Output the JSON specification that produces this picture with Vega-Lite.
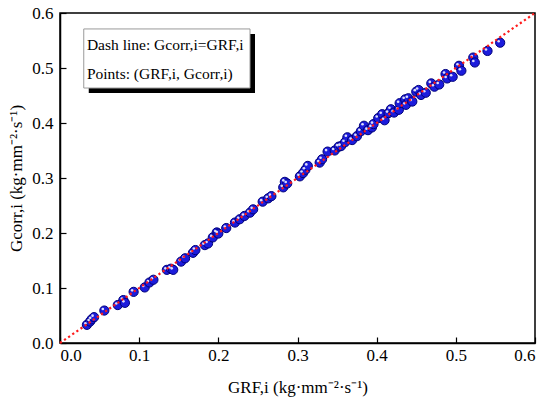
{
  "$schema": "https://vega.github.io/schema/vega-lite/v6.json",
  "width": 475,
  "height": 330,
  "autosize": {"type": "none"},
  "padding": {"left": 60, "top": 13, "right": 15, "bottom": 60},
  "background": "white",
  "config": {
    "view": {"stroke": "black", "strokeWidth": 1.5},
    "font": "Liberation Serif"
  },
  "datasets": {
    "pts": [
      {"g_rf": 0.034, "g_corr": 0.033}, {"g_rf": 0.038, "g_corr": 0.039}, {"g_rf": 0.040, "g_corr": 0.043},
      {"g_rf": 0.043, "g_corr": 0.047}, {"g_rf": 0.056, "g_corr": 0.059}, {"g_rf": 0.073, "g_corr": 0.069},
      {"g_rf": 0.080, "g_corr": 0.078}, {"g_rf": 0.082, "g_corr": 0.073}, {"g_rf": 0.093, "g_corr": 0.093},
      {"g_rf": 0.107, "g_corr": 0.101}, {"g_rf": 0.113, "g_corr": 0.110}, {"g_rf": 0.118, "g_corr": 0.115},
      {"g_rf": 0.135, "g_corr": 0.133}, {"g_rf": 0.140, "g_corr": 0.135}, {"g_rf": 0.143, "g_corr": 0.133},
      {"g_rf": 0.153, "g_corr": 0.148}, {"g_rf": 0.158, "g_corr": 0.154}, {"g_rf": 0.168, "g_corr": 0.164},
      {"g_rf": 0.171, "g_corr": 0.169}, {"g_rf": 0.183, "g_corr": 0.178}, {"g_rf": 0.187, "g_corr": 0.181},
      {"g_rf": 0.193, "g_corr": 0.192}, {"g_rf": 0.198, "g_corr": 0.201}, {"g_rf": 0.200, "g_corr": 0.199},
      {"g_rf": 0.210, "g_corr": 0.209}, {"g_rf": 0.221, "g_corr": 0.219}, {"g_rf": 0.227, "g_corr": 0.225},
      {"g_rf": 0.233, "g_corr": 0.231}, {"g_rf": 0.240, "g_corr": 0.237}, {"g_rf": 0.244, "g_corr": 0.243},
      {"g_rf": 0.256, "g_corr": 0.257}, {"g_rf": 0.263, "g_corr": 0.263}, {"g_rf": 0.267, "g_corr": 0.267},
      {"g_rf": 0.282, "g_corr": 0.283}, {"g_rf": 0.284, "g_corr": 0.293}, {"g_rf": 0.287, "g_corr": 0.290},
      {"g_rf": 0.303, "g_corr": 0.303}, {"g_rf": 0.307, "g_corr": 0.309}, {"g_rf": 0.310, "g_corr": 0.315},
      {"g_rf": 0.313, "g_corr": 0.322}, {"g_rf": 0.328, "g_corr": 0.328}, {"g_rf": 0.331, "g_corr": 0.334},
      {"g_rf": 0.338, "g_corr": 0.348}, {"g_rf": 0.347, "g_corr": 0.350}, {"g_rf": 0.352, "g_corr": 0.357},
      {"g_rf": 0.355, "g_corr": 0.358}, {"g_rf": 0.360, "g_corr": 0.365}, {"g_rf": 0.363, "g_corr": 0.374},
      {"g_rf": 0.369, "g_corr": 0.369}, {"g_rf": 0.375, "g_corr": 0.376}, {"g_rf": 0.380, "g_corr": 0.385},
      {"g_rf": 0.384, "g_corr": 0.395}, {"g_rf": 0.389, "g_corr": 0.387}, {"g_rf": 0.394, "g_corr": 0.392},
      {"g_rf": 0.396, "g_corr": 0.398}, {"g_rf": 0.402, "g_corr": 0.409}, {"g_rf": 0.407, "g_corr": 0.416},
      {"g_rf": 0.410, "g_corr": 0.405}, {"g_rf": 0.415, "g_corr": 0.418}, {"g_rf": 0.418, "g_corr": 0.425},
      {"g_rf": 0.422, "g_corr": 0.419}, {"g_rf": 0.428, "g_corr": 0.424}, {"g_rf": 0.429, "g_corr": 0.436},
      {"g_rf": 0.436, "g_corr": 0.443}, {"g_rf": 0.437, "g_corr": 0.433}, {"g_rf": 0.440, "g_corr": 0.445},
      {"g_rf": 0.445, "g_corr": 0.439}, {"g_rf": 0.450, "g_corr": 0.457}, {"g_rf": 0.453, "g_corr": 0.460},
      {"g_rf": 0.456, "g_corr": 0.451}, {"g_rf": 0.462, "g_corr": 0.455}, {"g_rf": 0.469, "g_corr": 0.472},
      {"g_rf": 0.473, "g_corr": 0.466}, {"g_rf": 0.479, "g_corr": 0.470}, {"g_rf": 0.487, "g_corr": 0.489},
      {"g_rf": 0.489, "g_corr": 0.481}, {"g_rf": 0.496, "g_corr": 0.484}, {"g_rf": 0.504, "g_corr": 0.504},
      {"g_rf": 0.507, "g_corr": 0.495}, {"g_rf": 0.522, "g_corr": 0.519}, {"g_rf": 0.524, "g_corr": 0.510},
      {"g_rf": 0.540, "g_corr": 0.531}, {"g_rf": 0.556, "g_corr": 0.546}
    ]
  },
  "layer": [
    {
      "data": {"name": "pts"},
      "mark": {"type": "point", "filled": true, "shape": "circle", "size": 85, "fill": "#1c1cdc", "stroke": "#00007a", "strokeWidth": 1, "opacity": 1},
      "encoding": {
        "x": {
          "field": "g_rf", "type": "quantitative",
          "title": "GRF,i (kg·mm⁻²·s⁻¹)",
          "scale": {"domain": [0, 0.6], "nice": false, "zero": true},
          "axis": {
            "values": [0, 0.05, 0.1, 0.15, 0.2, 0.25, 0.3, 0.35, 0.4, 0.45, 0.5, 0.55, 0.6],
            "labelExpr": "round(datum.value*20) % 2 == 1 ? '' : format(datum.value, '.1f')",
            "tickSize": {"condition": {"test": "round(datum.value*20) % 2 == 1", "value": -3}, "value": -6},
            "grid": false,
            "domainColor": "black", "domainWidth": 1.5,
            "tickColor": "black", "tickWidth": 1.2,
            "labelFontSize": 17, "labelColor": "black", "labelFont": "Liberation Serif",
            "labelPadding": 10,
            "titleFontSize": 17, "titleFontWeight": "normal", "titleColor": "black", "titleFont": "Liberation Serif",
            "titlePadding": 16
          }
        },
        "y": {
          "field": "g_corr", "type": "quantitative",
          "title": "Gcorr,i (kg·mm⁻²·s⁻¹)",
          "scale": {"domain": [0, 0.6], "nice": false, "zero": true},
          "axis": {
            "values": [0, 0.05, 0.1, 0.15, 0.2, 0.25, 0.3, 0.35, 0.4, 0.45, 0.5, 0.55, 0.6],
            "labelExpr": "round(datum.value*20) % 2 == 1 ? '' : format(datum.value, '.1f')",
            "tickSize": {"condition": {"test": "round(datum.value*20) % 2 == 1", "value": -3}, "value": -6},
            "grid": false,
            "domainColor": "black", "domainWidth": 1.5,
            "tickColor": "black", "tickWidth": 1.2,
            "labelFontSize": 17, "labelColor": "black", "labelFont": "Liberation Serif",
            "labelPadding": 13,
            "titleFontSize": 17, "titleFontWeight": "normal", "titleColor": "black", "titleFont": "Liberation Serif",
            "titlePadding": 6
          }
        }
      }
    },
    {
      "data": {"name": "pts"},
      "mark": {"type": "point", "filled": true, "shape": "circle", "size": 7, "fill": "white", "opacity": 0.85, "xOffset": -1.5, "yOffset": -1.5},
      "encoding": {
        "x": {"field": "g_rf", "type": "quantitative"},
        "y": {"field": "g_corr", "type": "quantitative"}
      }
    },
    {
      "data": {"values": [{}]},
      "mark": {"type": "rule", "color": "#ff1a1a", "strokeWidth": 2.2, "strokeDash": [2.2, 2.8]},
      "encoding": {
        "x": {"datum": 0, "type": "quantitative"},
        "y": {"datum": 0, "type": "quantitative"},
        "x2": {"datum": 0.6},
        "y2": {"datum": 0.6}
      }
    },
    {
      "data": {"values": [{}]},
      "mark": {"type": "rect", "fill": "black", "xOffset": 5, "yOffset": 5, "x2Offset": 5, "y2Offset": 5},
      "encoding": {
        "x": {"datum": 0.030, "type": "quantitative"},
        "x2": {"datum": 0.240},
        "y": {"datum": 0.571, "type": "quantitative"},
        "y2": {"datum": 0.4636}
      }
    },
    {
      "data": {"values": [{}]},
      "mark": {"type": "rect", "fill": "white", "stroke": "#9a9a9a", "strokeWidth": 1},
      "encoding": {
        "x": {"datum": 0.030, "type": "quantitative"},
        "x2": {"datum": 0.240},
        "y": {"datum": 0.571, "type": "quantitative"},
        "y2": {"datum": 0.4636}
      }
    },
    {
      "data": {"values": [{}]},
      "mark": {"type": "text", "align": "left", "baseline": "alphabetic", "fontSize": 15.5, "font": "Liberation Serif", "color": "black", "text": "Dash line: Gcorr,i=GRF,i"},
      "encoding": {
        "x": {"datum": 0.034, "type": "quantitative"},
        "y": {"datum": 0.533, "type": "quantitative"}
      }
    },
    {
      "data": {"values": [{}]},
      "mark": {"type": "text", "align": "left", "baseline": "alphabetic", "fontSize": 15.5, "font": "Liberation Serif", "color": "black", "text": "Points: (GRF,i, Gcorr,i)"},
      "encoding": {
        "x": {"datum": 0.034, "type": "quantitative"},
        "y": {"datum": 0.480, "type": "quantitative"}
      }
    }
  ]
}
